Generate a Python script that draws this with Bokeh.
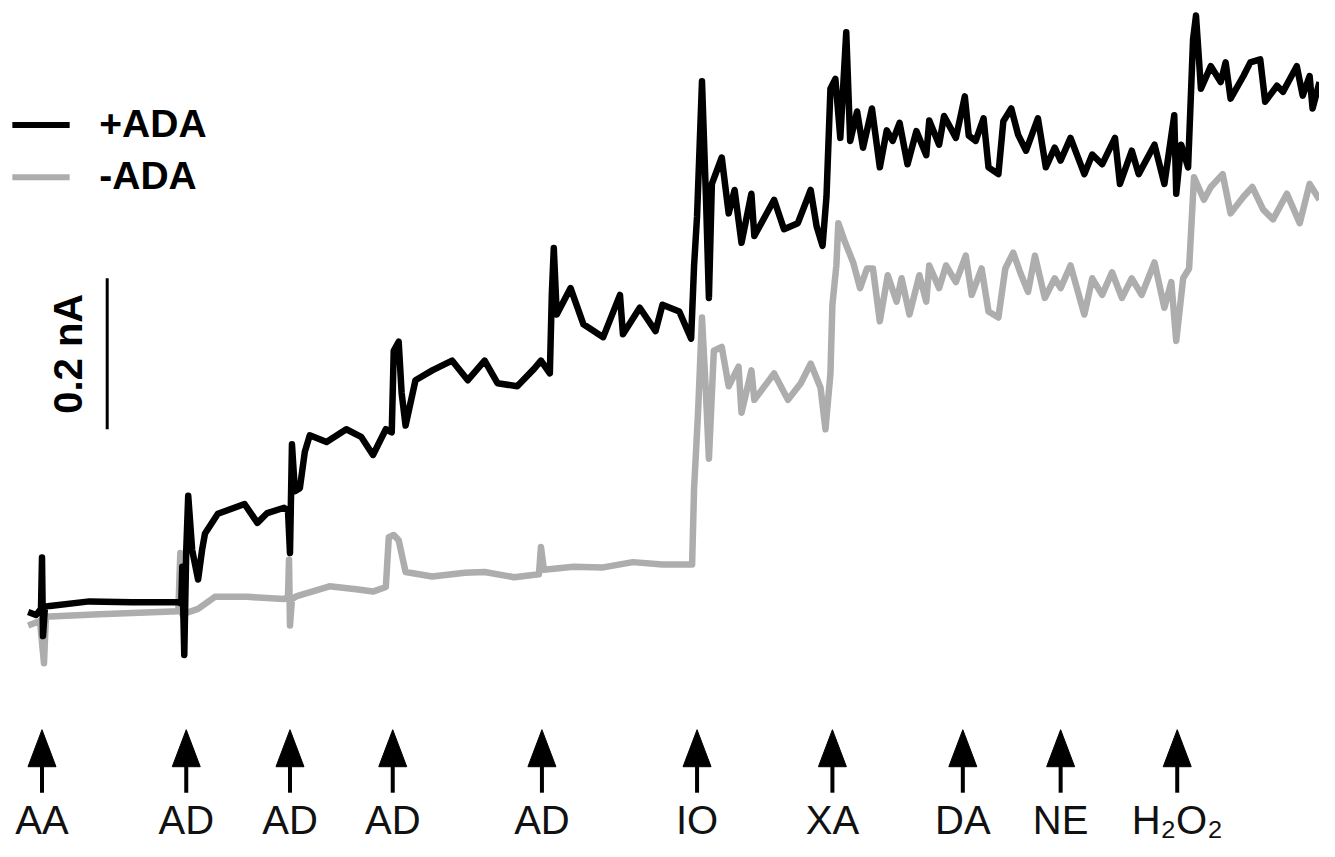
import numpy as np
from bokeh.plotting import figure
from bokeh.models import Range1d
from bokeh.core.properties import value
from bokeh.embed import file_html
from bokeh.resources import INLINE

# ---- data: time (s) and current (pA) ----
t_plus = [0, 8, 13, 14, 15, 17, 22, 62, 105, 152, 155, 156, 158, 160, 162, 166, 172, 176, 179, 192,
          219, 232, 242, 259, 263, 265, 267, 270, 275, 280, 285, 302, 322, 337, 349, 362, 368, 370, 375, 378,
          382, 392, 409, 429, 445, 462, 475, 495, 512, 519, 528, 530, 532, 535, 549, 562, 582, 599, 602, 619,
          635, 642, 659, 671, 674, 677, 682, 686, 689, 692, 702, 709, 715, 722, 732, 735, 755, 765, 779, 792,
          798, 804, 808, 812, 817, 822, 828, 829, 832, 839, 845, 854, 862, 869, 875, 882, 890, 899, 909, 912,
          922, 927, 939, 948, 952, 959, 967, 972, 982, 987, 995, 1002, 1010, 1022, 1030, 1039, 1045, 1055, 1069, 1077,
          1087, 1100, 1105, 1117, 1124, 1140, 1150, 1160, 1162, 1167, 1174, 1179, 1182, 1185, 1187, 1197, 1207, 1212, 1217, 1230,
          1237, 1247, 1252, 1264, 1270, 1284, 1290, 1297, 1300, 1307]
i_plus = [-4, -8, 0, 68, -36, 3, 4, 10, 9, 9, 7, 56, -61, 78, 150, 78, 39, 78, 100, 126,
          139, 114, 127, 134, 130, 74, 218, 156, 160, 208, 230, 221, 238, 228, 204, 238, 234, 342, 354, 286,
          243, 303, 316, 329, 303, 329, 299, 295, 318, 329, 312, 416, 478, 390, 425, 377, 360, 416, 364, 399,
          368, 403, 394, 358, 455, 520, 699, 546, 412, 563, 598, 524, 555, 485, 550, 494, 542, 503, 511, 555,
          507, 481, 546, 689, 702, 624, 764, 728, 620, 659, 611, 663, 585, 634, 620, 644, 589, 633, 601, 647,
          615, 653, 624, 679, 627, 620, 650, 585, 576, 646, 663, 628, 607, 650, 585, 611, 594, 624, 576, 602,
          589, 624, 563, 607, 576, 615, 563, 654, 550, 615, 585, 754, 786, 728, 689, 719, 698, 724, 676, 706,
          724, 728, 672, 693, 685, 719, 680, 706, 663, 698]

t_minus = [0, 12, 16, 18, 22, 72, 152, 154, 156, 172, 189, 222, 259, 263, 264, 265, 267, 272, 305, 332,
           349, 362, 365, 370, 375, 382, 409, 442, 462, 492, 517, 519, 522, 552, 582, 612, 642, 672, 674, 678,
           682, 686, 689, 694, 702, 709, 719, 722, 732, 735, 755, 769, 782, 792, 802, 807, 812, 814, 818, 820,
           827, 835, 842, 849, 855, 862, 870, 879, 884, 892, 902, 909, 912, 922, 929, 939, 949, 955, 965, 972,
           982, 989, 997, 1004, 1012, 1019, 1029, 1039, 1045, 1055, 1069, 1077, 1087, 1097, 1107, 1117, 1127, 1140, 1150, 1157,
           1162, 1169, 1175, 1180, 1190, 1197, 1209, 1217, 1230, 1239, 1250, 1260, 1274, 1287, 1297, 1307]
i_minus = [-22, -16, -72, -10, -10, -7, -3, 74, -7, 0, 16, 16, 13, 16, 65, -22, 13, 17, 30, 26,
           23, 29, 95, 98, 91, 49, 43, 48, 49, 42, 46, 82, 52, 56, 55, 62, 59, 59, 160, 260,
           386, 286, 199, 342, 347, 295, 321, 260, 316, 277, 312, 277, 299, 325, 293, 238, 312, 403, 455, 511,
           485, 459, 425, 451, 451, 381, 442, 407, 438, 390, 442, 407, 455, 425, 455, 433, 468, 416, 451, 394,
           386, 451, 472, 446, 420, 468, 412, 438, 425, 455, 390, 438, 416, 446, 412, 438, 416, 459, 399, 433,
           355, 438, 451, 572, 542, 559, 576, 524, 546, 559, 529, 516, 550, 511, 563, 542]

series_labels = ["+ADA", "-ADA"]
series_colors = ["#000000", "#adadad"]

inj_times = [14, 160, 265, 369, 520, 677, 814, 946, 1045, 1163]
inj_labels = ["AA", "AD", "AD", "AD", "AD", "IO", "XA", "DA", "NE", "H\u2082O\u2082"]

scale_bar_pA = 200
scale_label = "0.2 nA"

# ---- layout ----
W, H = 1319, 841
x0, x1 = -28, 1307
y0, y1 = -308.1, 806.0
PX_Y = (y1 - y0) / H   # pA per screen pixel
PX_X = (x1 - x0) / W   # s per screen pixel

p = figure(width=W, height=H, output_backend="svg", toolbar_location=None,
           x_range=Range1d(x0, x1), y_range=Range1d(y0, y1),
           min_border=0, outline_line_color=None)
p.axis.visible = False
p.grid.visible = False
p.background_fill_color = "white"
p.border_fill_color = "white"

FONT = value("Liberation Sans")

# traces (gray below black)
p.line(t_minus, i_minus, line_color=series_colors[1], line_width=6.5, line_join="round")
p.line(t_plus, i_plus, line_color=series_colors[0], line_width=6.5, line_join="round")

# legend
leg_x0 = -16
leg_x1 = 42
leg_y = [641, 572]
for yy, col, lab in zip(leg_y, series_colors, series_labels):
    p.segment(x0=[leg_x0], y0=[yy], x1=[leg_x1], y1=[yy], line_color=col, line_width=6)
    p.text(x=[72], y=[yy + 2], text=[lab], text_font=FONT, text_font_size="39px",
           text_font_style="bold", text_align="left", text_baseline="middle", text_color="black")

# scale bar
sb_x = 80
sb_y0 = 238
p.segment(x0=[sb_x], y0=[sb_y0], x1=[sb_x], y1=[sb_y0 + scale_bar_pA], line_color="black", line_width=3)
p.text(x=[sb_x - 40], y=[sb_y0 + scale_bar_pA / 2], text=[scale_label], angle=np.pi / 2,
       text_font=FONT, text_font_size="40px", text_font_style="bold",
       text_align="center", text_baseline="middle", text_color="black")

# injection arrows
tip_y = -160
base_y = tip_y - 37 * PX_Y
tail_y = tip_y - 63 * PX_Y
half_w = 14 * PX_X
xs = [[t - half_w, t, t + half_w] for t in inj_times]
ys = [[base_y, tip_y, base_y] for _ in inj_times]
p.patches(xs, ys, fill_color="black", line_color="black", line_width=1)
p.segment(x0=inj_times, y0=[tail_y] * len(inj_times), x1=inj_times, y1=[base_y + 2] * len(inj_times),
          line_color="black", line_width=4)
p.text(x=inj_times, y=[tip_y - 90 * PX_Y] * len(inj_times), text=inj_labels, text_font=FONT,
       text_font_size="40px", text_align="center", text_baseline="middle", text_color="#111111")

open("out.html", "w").write(file_html(p, INLINE))
